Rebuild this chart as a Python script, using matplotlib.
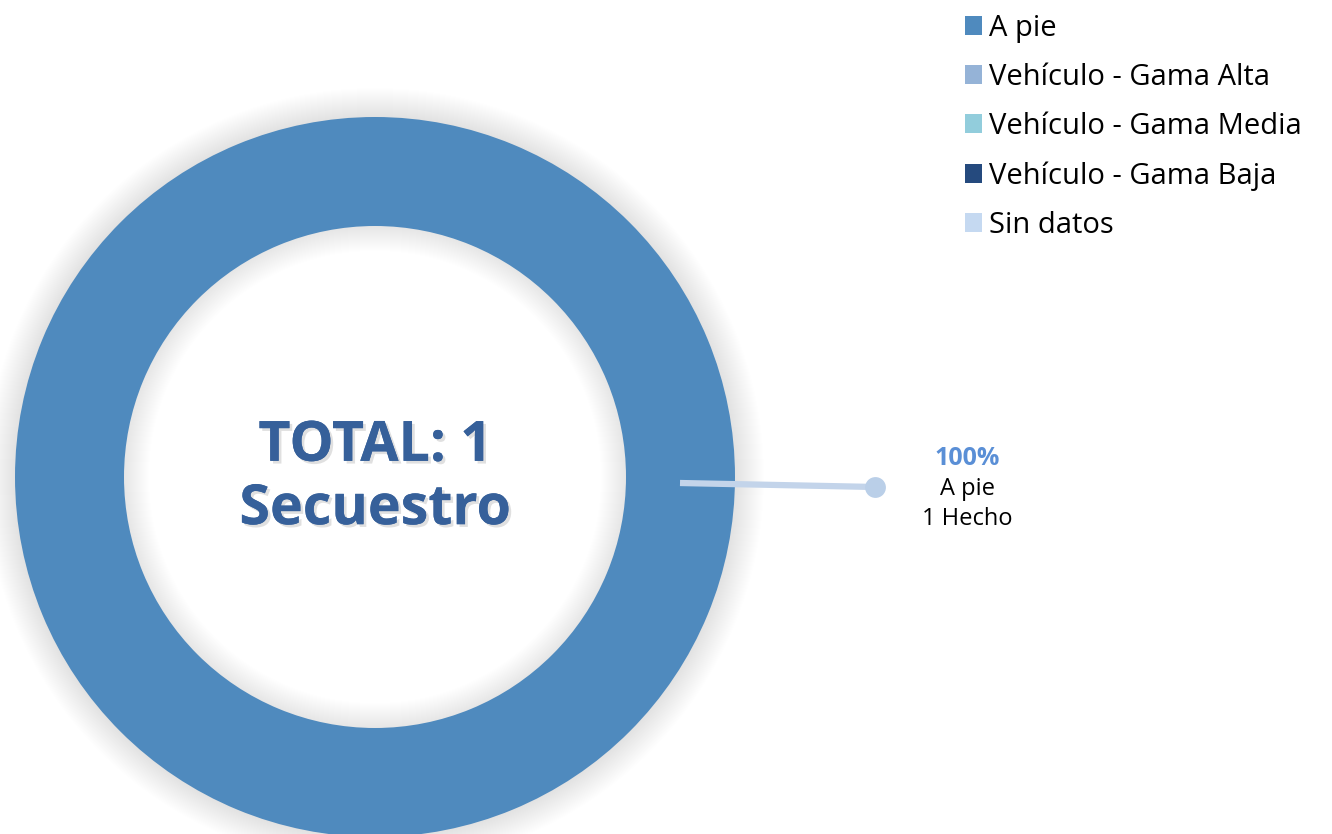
import matplotlib
matplotlib.use("Agg")
import matplotlib.pyplot as plt
from matplotlib.patches import Wedge
import matplotlib.patheffects as pe

plt.rcParams['font.family'] = ['Open Sans', 'DejaVu Sans']

categories = ["A pie", "Vehículo - Gama Alta", "Vehículo - Gama Media",
              "Vehículo - Gama Baja", "Sin datos"]
values = [1, 0, 0, 0, 0]
colors = ["#4F8ABE", "#95B3D7", "#92CDDC", "#254A7E", "#C5D9F1"]
total_label = "TOTAL: 1\nSecuestro"
slice_pct = "100%"
slice_name = "A pie"
slice_count = "1 Hecho"

W, H = 1332, 834
fig = plt.figure(figsize=(W / 100, H / 100), dpi=100)
ax = fig.add_axes([0, 0, 1, 1])

cx, cy, R = 375, 477, 360
ring_w = 109

# soft shadow around the ring
for d in range(1, 30):
    ax.add_patch(Wedge((cx, cy), R + d, 0, 360, width=d + 2,
                       facecolor="black", edgecolor="none", alpha=0.005, zorder=1))
for d in range(1, 26):
    ax.add_patch(Wedge((cx, cy), R - ring_w + 2, 0, 360, width=d + 2,
                       facecolor="black", edgecolor="none", alpha=0.005, zorder=1))

wedges, _ = ax.pie(values, colors=colors, radius=R, center=(cx, cy),
                   startangle=90, counterclock=False,
                   wedgeprops=dict(width=ring_w, edgecolor="none"))
for w in wedges:
    w.set_zorder(2)

ax.set_xlim(0, W)
ax.set_ylim(H, 0)
ax.set_aspect("equal")
ax.axis("off")

ax.text(cx, cy + 1, total_label, ha="center", va="center", fontsize=40,
        fontweight="bold", color="#36609A", linespacing=1.2, zorder=5,
        path_effects=[pe.withSimplePatchShadow(offset=(2, -2), shadow_rgbFace="#999999", alpha=0.3),
                      pe.Normal()])

# leader line
ax.plot([680, 875], [483, 487], color="#C3D4EA", lw=4.5, solid_capstyle="butt", zorder=4)
ax.plot([875], [487], marker="o", ms=15, color="#BACFE8", mec="none", zorder=4)

ax.text(967, 458, slice_pct, ha="center", va="center", fontsize=18,
        fontweight="bold", color="#5A8FD6")
ax.text(967, 489, slice_name, ha="center", va="center", fontsize=17, color="black")
ax.text(967, 519, slice_count, ha="center", va="center", fontsize=17, color="black")

fig.legend(handles=wedges, labels=categories, loc="upper left",
           bbox_to_anchor=(953 / W, 1 - 2 / H), frameon=False, fontsize=21,
           handlelength=0.6, handleheight=0.6, handletextpad=0.25,
           labelspacing=0.69, borderaxespad=0)

fig.savefig("out.png", dpi=100)
